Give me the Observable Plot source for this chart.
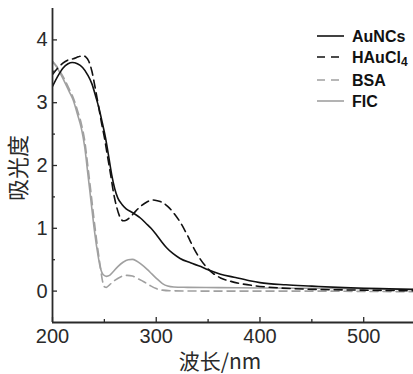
<!DOCTYPE html>
<html><head><meta charset="utf-8">
<script src="https://cdn.jsdelivr.net/npm/d3@7"></script>
<script src="https://cdn.jsdelivr.net/npm/@observablehq/plot@0.6"></script>
<style>body{margin:0;background:#fff} svg{display:block}</style>
</head><body><div id="chart"></div><script>
const seriesNames = ["AuNCs", "HAuCl4", "BSA", "FIC"];

const aunWl  = [200,205,210,215,219,224,229,234,238,242,245,248,251,254,257,260,263,267,271,276,280,285,290,295,300,305,310,316,323,333,343,350,362,375,390,400,425,450,475,500,525,548];
const aunAbs = [3.26,3.42,3.55,3.62,3.64,3.62,3.56,3.44,3.30,3.08,2.90,2.68,2.45,2.16,1.86,1.63,1.48,1.38,1.31,1.26,1.22,1.16,1.08,1.00,0.90,0.79,0.69,0.60,0.52,0.45,0.39,0.34,0.27,0.22,0.165,0.135,0.10,0.08,0.06,0.045,0.035,0.025];

const hauWl  = [200,205,210,215,220,225,229,232,235,238,241,244,247,250,253,256,259,262,265,268,271,275,280,285,291,297,301,306,311,317,323,330,336,342,349,355,362,372,381,395,407,430,460,500,548];
const hauAbs = [3.45,3.55,3.63,3.68,3.70,3.73,3.75,3.73,3.66,3.50,3.25,2.98,2.70,2.45,2.15,1.86,1.55,1.33,1.18,1.12,1.13,1.18,1.27,1.35,1.42,1.45,1.44,1.41,1.35,1.24,1.10,0.89,0.69,0.52,0.37,0.28,0.21,0.155,0.12,0.085,0.065,0.04,0.025,0.015,0.005];

const bsaWl  = [200,204,208,212,216,220,224,228,231,234,237,240,243,246,248,250,252,255,260,266,272,277,282,288,294,300,306,315,350,400,450,500,548];
const bsaAbs = [3.66,3.58,3.48,3.36,3.22,3.08,2.88,2.65,2.40,2.00,1.58,1.15,0.75,0.40,0.18,0.07,0.06,0.10,0.17,0.23,0.25,0.24,0.20,0.15,0.09,0.04,0.015,0.005,0.0,0.0,0.0,-0.005,-0.01];

const ficWl  = [200,204,208,212,216,220,224,228,231,234,237,240,243,246,249,252,255,258,263,268,273,277,281,286,291,296,301,306,311,317,330,360,400,450,500,548];
const ficAbs = [3.65,3.57,3.45,3.32,3.18,3.04,2.82,2.58,2.30,1.88,1.45,1.02,0.66,0.38,0.26,0.235,0.25,0.30,0.39,0.46,0.50,0.505,0.48,0.42,0.35,0.27,0.19,0.12,0.08,0.065,0.06,0.055,0.05,0.045,0.04,0.035];

const xMajorTicks = [200, 300, 400, 500];
const xMinorTicks = [250, 350, 450];
const yMajorTicks = [0, 1, 2, 3, 4];
const yMinorTicks = [0.5, 1.5, 2.5, 3.5];

const xLabel = "波长/nm";
const yLabel = "吸光度";

const toRows = (name, wl, ab) => wl.map((w, i) => ({name, wl: w, a: ab[i]}));
const rows = [
  ...toRows("AuNCs", aunWl, aunAbs),
  ...toRows("HAuCl4", hauWl, hauAbs),
  ...toRows("BSA", bsaWl, bsaAbs),
  ...toRows("FIC", ficWl, ficAbs)
];

const styles = {
  AuNCs:  {stroke: "#111", dash: null},
  HAuCl4: {stroke: "#111", dash: "8,5"},
  BSA:    {stroke: "#a0a0a0", dash: "8,5"},
  FIC:    {stroke: "#a0a0a0", dash: null}
};

const W = 413, H = 374, mL = 52, mR = 0, mT = 8, mB = 52;
const innerW = W - mL - mR, innerH = H - mT - mB;
const axisColor = "#2a2a2a";
const drawOrder = ["BSA", "FIC", "HAuCl4", "AuNCs"];

const plot = Plot.plot({
  width: W, height: H,
  marginLeft: mL, marginRight: mR, marginTop: mT, marginBottom: mB,
  style: {fontFamily: "'Liberation Sans', Arial, sans-serif", color: axisColor, background: "#fff"},
  x: {domain: [200, 548]},
  y: {domain: [-0.5, 4.5]},
  marks: [
    ...drawOrder.map(n => Plot.line(rows.filter(r => r.name === n), {
      x: "wl", y: "a", stroke: styles[n].stroke, strokeWidth: 1.6,
      strokeDasharray: styles[n].dash, curve: "monotone-x", clip: true
    })),
    Plot.ruleX([200], {stroke: axisColor, strokeWidth: 1.8}),
    Plot.ruleY([-0.5], {stroke: axisColor, strokeWidth: 1.8}),
    Plot.tickY(yMajorTicks, {y: d => d, stroke: axisColor, strokeWidth: 1.3, insetRight: innerW - 5}),
    Plot.tickY(yMinorTicks, {y: d => d, stroke: axisColor, strokeWidth: 1.3, insetRight: innerW - 3}),
    Plot.tickX(xMajorTicks, {x: d => d, stroke: axisColor, strokeWidth: 1.3, insetTop: innerH - 5}),
    Plot.tickX(xMinorTicks, {x: d => d, stroke: axisColor, strokeWidth: 1.3, insetTop: innerH - 3}),
    Plot.axisY({ticks: yMajorTicks, tickFormat: d3.format("d"), tickSize: 0, tickPadding: 5, fontSize: 20, label: null}),
    Plot.axisX({ticks: xMajorTicks, tickFormat: d3.format("d"), tickSize: 0, tickPadding: 6, fontSize: 20, label: null})
  ]
});
document.getElementById("chart").appendChild(plot);

const svg = d3.select(plot);
svg.append("text")
  .attr("x", 220).attr("y", 369)
  .attr("text-anchor", "middle")
  .attr("font-family", "'Noto Sans CJK SC', 'Liberation Sans', sans-serif")
  .attr("font-size", 21).attr("fill", axisColor)
  .text(xLabel);
svg.append("text")
  .attr("transform", "translate(26,168) rotate(-90)")
  .attr("text-anchor", "middle")
  .attr("font-family", "'Noto Sans CJK SC', sans-serif")
  .attr("font-size", 22).attr("fill", axisColor)
  .text(yLabel);

const legendY = [36, 57, 80, 101];
const lg = svg.append("g").attr("font-family", "'Liberation Sans', Arial, sans-serif")
  .attr("font-weight", "bold").attr("font-size", 16).attr("fill", "#111")
  .attr("text-anchor", "start");
seriesNames.forEach((n, i) => {
  lg.append("line").attr("x1", 317).attr("x2", 344).attr("y1", legendY[i]).attr("y2", legendY[i])
    .attr("stroke", styles[n].stroke).attr("stroke-width", 1.6)
    .attr("stroke-dasharray", styles[n].dash ? "8,6" : null);
  const t = lg.append("text").attr("x", 352).attr("y", legendY[i]).attr("dy", "0.36em")
    .attr("text-anchor", "start");
  if (n === "HAuCl4") {
    t.append("tspan").text("HAuCl");
    t.append("tspan").attr("font-size", 12).attr("dy", "0.3em").text("4");
  } else {
    t.text(n);
  }
});
</script></body></html>
